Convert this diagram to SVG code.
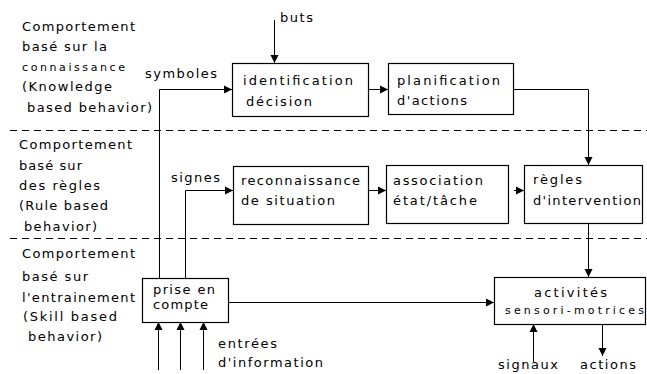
<svg xmlns="http://www.w3.org/2000/svg" width="647" height="374" viewBox="0 0 647 374">
  <style>
    text { font-family: "DejaVu Sans", "Liberation Sans", sans-serif; font-size: 13px; fill: #000; }
    .small { font-size: 11px; }
    .box { fill: #fff; stroke: #000; stroke-width: 1.2; }
    .wire { fill: none; stroke: #000; stroke-width: 1; }
    .sep { stroke: #000; stroke-width: 1; stroke-dasharray: 7 5; }
  </style>
  <defs>
    <marker id="arrow" markerUnits="userSpaceOnUse" markerWidth="9" markerHeight="9" refX="8" refY="4.5" orient="auto">
      <path d="M0,0.5 L8,4.5 L0,8.5 z" fill="#000"/>
    </marker>
  </defs>
  <rect width="647" height="374" fill="#fff"/>

  <!-- level separators -->
  <g id="separators">
    <line class="sep" x1="10" y1="130.5" x2="647" y2="130.5"/>
    <line class="sep" x1="10" y1="238.5" x2="647" y2="238.5"/>
  </g>

  <!-- level captions -->
  <g id="level-knowledge">
    <text x="22" y="31" textLength="113" lengthAdjust="spacing">Comportement</text>
    <text x="22" y="51" textLength="85" lengthAdjust="spacing">basé sur la</text>
    <text class="small" x="22" y="71" textLength="103" lengthAdjust="spacing">connaissance</text>
    <text x="22" y="91" textLength="90" lengthAdjust="spacing">(Knowledge</text>
    <text x="27" y="112" textLength="125" lengthAdjust="spacing">based behavior)</text>
  </g>
  <g id="level-rules">
    <text x="19" y="149" textLength="113" lengthAdjust="spacing">Comportement</text>
    <text x="19" y="170" textLength="63" lengthAdjust="spacing">basé sur</text>
    <text x="19" y="190" textLength="81" lengthAdjust="spacing">des règles</text>
    <text x="19" y="210" textLength="89" lengthAdjust="spacing">(Rule based</text>
    <text x="24" y="231" textLength="73" lengthAdjust="spacing">behavior)</text>
  </g>
  <g id="level-skill">
    <text x="22" y="258" textLength="113" lengthAdjust="spacing">Comportement</text>
    <text x="22" y="281" textLength="66" lengthAdjust="spacing">basé sur</text>
    <text x="22" y="302" textLength="113" lengthAdjust="spacing">l'entrainement</text>
    <text x="23" y="321" textLength="94" lengthAdjust="spacing">(Skill based</text>
    <text x="28" y="341" textLength="74" lengthAdjust="spacing">behavior)</text>
  </g>

  <!-- connectors -->
  <g id="connectors">
    <path class="wire" d="M274.5,20 V63" marker-end="url(#arrow)"/>
    <path class="wire" d="M159.5,278 V89.5 H232" marker-end="url(#arrow)"/>
    <path class="wire" d="M369,89.5 H388" marker-end="url(#arrow)"/>
    <path class="wire" d="M514,89.5 H588.5 V165" marker-end="url(#arrow)"/>
    <path class="wire" d="M185.5,278 V190.5 H233" marker-end="url(#arrow)"/>
    <path class="wire" d="M369,190.5 H386" marker-end="url(#arrow)"/>
    <path class="wire" d="M514,190.5 H524" marker-end="url(#arrow)"/>
    <path class="wire" d="M588.5,223 V277" marker-end="url(#arrow)"/>
    <path class="wire" d="M229,302.5 H494" marker-end="url(#arrow)"/>
    <path class="wire" d="M158.5,370 V322" marker-end="url(#arrow)"/>
    <path class="wire" d="M180.5,370 V322" marker-end="url(#arrow)"/>
    <path class="wire" d="M203.5,370 V322" marker-end="url(#arrow)"/>
    <path class="wire" d="M533.5,362 V324" marker-end="url(#arrow)"/>
    <path class="wire" d="M602.5,324 V356" marker-end="url(#arrow)"/>
  </g>

  <!-- connector labels -->
  <g id="labels">
    <text x="280" y="22" textLength="33" lengthAdjust="spacing">buts</text>
    <text x="145" y="78" textLength="72" lengthAdjust="spacing">symboles</text>
    <text x="171" y="182" textLength="49" lengthAdjust="spacing">signes</text>
    <text x="218" y="348" textLength="59" lengthAdjust="spacing">entrées</text>
    <text x="218" y="367" textLength="105" lengthAdjust="spacing">d'information</text>
    <text x="498" y="369" textLength="60" lengthAdjust="spacing">signaux</text>
    <text x="580" y="369" textLength="56" lengthAdjust="spacing">actions</text>
  </g>

  <!-- nodes -->
  <g id="identification">
    <rect class="box" x="232.5" y="63.5" width="136" height="53"/>
    <text x="243" y="85" textLength="110" lengthAdjust="spacing">identification</text>
    <text x="246" y="106" textLength="66" lengthAdjust="spacing">décision</text>
  </g>
  <g id="planification">
    <rect class="box" x="388.5" y="63.5" width="125" height="51"/>
    <text x="397" y="85" textLength="103" lengthAdjust="spacing">planification</text>
    <text x="397" y="105" textLength="70" lengthAdjust="spacing">d'actions</text>
  </g>
  <g id="reconnaissance">
    <rect class="box" x="233.5" y="166.5" width="135" height="58"/>
    <text x="241" y="185" textLength="119" lengthAdjust="spacing">reconnaissance</text>
    <text x="241" y="205" textLength="94" lengthAdjust="spacing">de situation</text>
  </g>
  <g id="association">
    <rect class="box" x="386.5" y="165.5" width="122" height="58"/>
    <text x="393" y="185" textLength="90" lengthAdjust="spacing">association</text>
    <text x="393" y="205" textLength="84" lengthAdjust="spacing">état/tâche</text>
  </g>
  <g id="regles">
    <rect class="box" x="524.5" y="165.5" width="118" height="58"/>
    <text x="533" y="184" textLength="49" lengthAdjust="spacing">règles</text>
    <text x="533" y="205" textLength="108" lengthAdjust="spacing">d'intervention</text>
  </g>
  <g id="prise-en-compte">
    <rect class="box" x="142.5" y="278.5" width="86" height="44"/>
    <text x="153" y="294" textLength="62" lengthAdjust="spacing">prise en</text>
    <text x="153" y="309" textLength="55" lengthAdjust="spacing">compte</text>
  </g>
  <g id="activites">
    <rect class="box" x="494.5" y="277.5" width="151" height="47"/>
    <text x="534" y="297" textLength="73" lengthAdjust="spacing">activités</text>
    <text class="small" x="505" y="314" textLength="139" lengthAdjust="spacing">sensori-motrices</text>
  </g>
</svg>
